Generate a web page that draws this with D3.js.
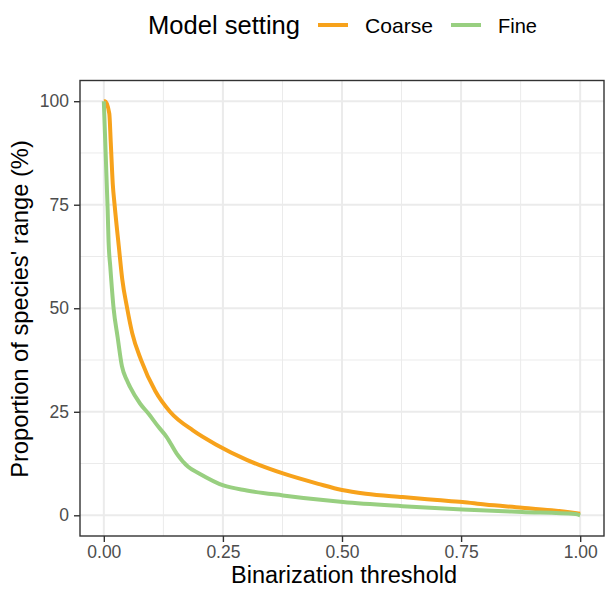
<!DOCTYPE html>
<html>
<head>
<meta charset="utf-8">
<script src="https://cdn.jsdelivr.net/npm/d3@7/dist/d3.min.js"></script>
<style>
  body { margin: 0; background: #fff; }
  text { font-family: "Liberation Sans", Arial, sans-serif; }
</style>
</head>
<body>
<div id="chart"></div>
<script>
// binarization threshold vs proportion of range kept (%)
var coarseThreshold = [0, 0.003, 0.0115, 0.0146, 0.0188, 0.0226, 0.0314, 0.0387, 0.049, 0.0596, 0.0785, 0.108, 0.139, 0.187, 0.237, 0.3, 0.327, 0.376, 0.45, 0.5, 0.55, 0.627, 0.7, 0.753, 0.8, 0.878, 0.94, 1.0];
var coarseRange     = [100, 100, 97, 90, 80, 75, 65, 57, 50, 44, 37.4, 30, 25, 20.5, 17.0, 13.4, 12.1, 10.1, 7.6, 6.1, 5.2, 4.4, 3.7, 3.2, 2.6, 1.85, 1.2, 0.4];
var fineThreshold   = [0, 0.008, 0.01, 0.0136, 0.0205, 0.029, 0.038, 0.0485, 0.055, 0.076, 0.094, 0.115, 0.132, 0.153, 0.177, 0.2, 0.251, 0.3, 0.376, 0.45, 0.502, 0.627, 0.753, 0.878, 0.99, 1.0];
var fineRange       = [100, 74, 66, 60, 50, 43, 36, 32.6, 31, 27, 24.5, 21.3, 18.9, 14.9, 11.7, 10.1, 7.2, 6, 4.8, 3.8, 3.2, 2.2, 1.4, 0.8, 0.3, 0];

var seriesNames = ["Coarse", "Fine"];
var seriesColors = ["#F7A21B", "#98CF80"];
var xTicks = [0, 0.25, 0.5, 0.75, 1];
var yTicks = [0, 25, 50, 75, 100];

var W = 606, H = 589;
var margin = {top: 80.5, right: 2, bottom: 53, left: 80};
var width = W - margin.left - margin.right,
    height = H - margin.top - margin.bottom;

var svg = d3.select("#chart").append("svg")
    .attr("width", W)
    .attr("height", H);

var g = svg.append("g")
    .attr("transform", "translate(" + margin.left + "," + margin.top + ")");

var x = d3.scaleLinear().domain([-0.05, 1.05]).range([0, width]);
var y = d3.scaleLinear().domain([-5, 105]).range([height, 0]);

// minor grid
var xMinor = [0.125, 0.375, 0.625, 0.875];
var yMinor = [12.5, 37.5, 62.5, 87.5];
g.append("g").selectAll("line").data(xMinor).enter().append("line")
    .attr("x1", d => x(d)).attr("x2", d => x(d))
    .attr("y1", 0).attr("y2", height)
    .attr("stroke", "#EBEBEB").attr("stroke-width", 1);
g.append("g").selectAll("line").data(yMinor).enter().append("line")
    .attr("y1", d => y(d)).attr("y2", d => y(d))
    .attr("x1", 0).attr("x2", width)
    .attr("stroke", "#EBEBEB").attr("stroke-width", 1);

// major grid
g.append("g").selectAll("line").data(xTicks).enter().append("line")
    .attr("x1", d => x(d)).attr("x2", d => x(d))
    .attr("y1", 0).attr("y2", height)
    .attr("stroke", "#EBEBEB").attr("stroke-width", 2);
g.append("g").selectAll("line").data(yTicks).enter().append("line")
    .attr("y1", d => y(d)).attr("y2", d => y(d))
    .attr("x1", 0).attr("x2", width)
    .attr("stroke", "#EBEBEB").attr("stroke-width", 2);

// lines
var line = d3.line()
    .curve(d3.curveMonotoneX)
    .x(d => x(d[0]))
    .y(d => y(d[1]));

var series = [
    d3.zip(coarseThreshold, coarseRange),
    d3.zip(fineThreshold, fineRange)
];

g.append("g").selectAll("path").data(series).enter().append("path")
    .attr("d", line)
    .attr("fill", "none")
    .attr("stroke", (d, i) => seriesColors[i])
    .attr("stroke-width", 4)
    .attr("stroke-linejoin", "round");

// panel border
g.append("rect")
    .attr("width", width).attr("height", height)
    .attr("fill", "none")
    .attr("stroke", "#333333").attr("stroke-width", 1.4);

// axes
var xAxis = d3.axisBottom(x)
    .tickValues(xTicks)
    .tickFormat(d3.format(".2f"))
    .tickSize(6)
    .tickPadding(4);
var yAxis = d3.axisLeft(y)
    .tickValues(yTicks)
    .tickSize(6)
    .tickPadding(5);

var gx = g.append("g")
    .attr("transform", "translate(0," + height + ")")
    .call(xAxis);
var gy = g.append("g").call(yAxis);

[gx, gy].forEach(function(a) {
    a.select(".domain").remove();
    a.selectAll(".tick line").attr("stroke", "#333333").attr("stroke-width", 1.4);
    a.selectAll(".tick text")
        .attr("fill", "#4D4D4D")
        .style("font-size", "17.5px")
        .style("font-family", "'Liberation Sans', Arial, sans-serif");
});

// axis titles
svg.append("text")
    .attr("x", 344).attr("y", 583)
    .attr("text-anchor", "middle")
    .style("font-size", "23.5px")
    .attr("fill", "#000")
    .text("Binarization threshold");

svg.append("text")
    .attr("transform", "translate(28,309) rotate(-90)")
    .attr("text-anchor", "middle")
    .style("font-size", "23.7px")
    .attr("fill", "#000")
    .text("Proportion of species' range (%)");

// legend
var legend = svg.append("g");
legend.append("text")
    .attr("x", 148).attr("y", 34)
    .attr("textLength", 152)
    .attr("lengthAdjust", "spacingAndGlyphs")
    .style("font-size", "25px")
    .attr("fill", "#000")
    .text("Model setting");

var keyX = [318, 451];
var labelX = [365, 498];
var labelW = [68, 39];
seriesNames.forEach(function(name, i) {
    legend.append("line")
        .attr("x1", keyX[i]).attr("x2", keyX[i] + 30)
        .attr("y1", 25).attr("y2", 25)
        .attr("stroke", seriesColors[i])
        .attr("stroke-width", 4);
    legend.append("text")
        .attr("x", labelX[i]).attr("y", 33)
        .attr("textLength", labelW[i])
        .attr("lengthAdjust", "spacingAndGlyphs")
        .style("font-size", "21px")
        .attr("fill", "#000")
        .text(name);
});
</script>
</body>
</html>
